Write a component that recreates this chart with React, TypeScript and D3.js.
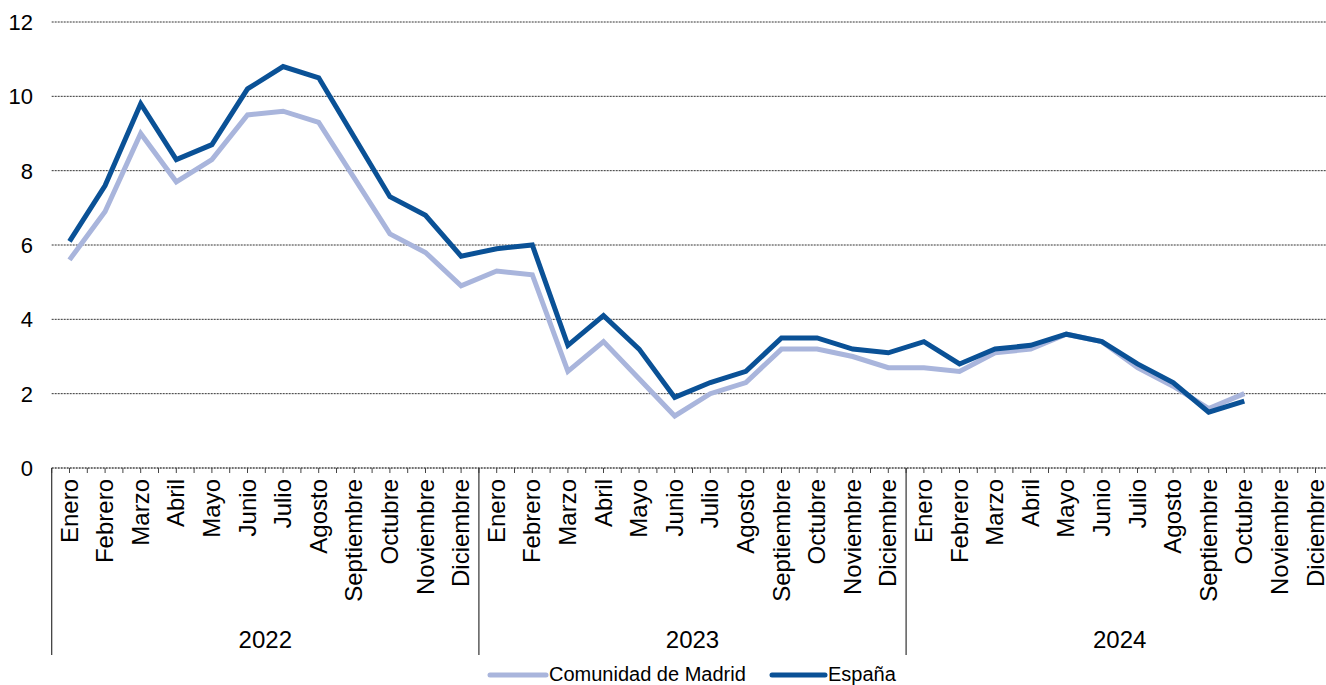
import React from "react";
import * as d3 from "d3";

const years = ["2022", "2023", "2024"];
const months = ["Enero", "Febrero", "Marzo", "Abril", "Mayo", "Junio", "Julio", "Agosto", "Septiembre", "Octubre", "Noviembre", "Diciembre"];
const madrid = [
  5.6, 6.9, 9.0, 7.7, 8.3, 9.5, 9.6, 9.3, 7.8, 6.3, 5.8, 4.9,
  5.3, 5.2, 2.6, 3.4, 2.4, 1.4, 2.0, 2.3, 3.2, 3.2, 3.0, 2.7,
  2.7, 2.6, 3.1, 3.2, 3.6, 3.4, 2.7, 2.2, 1.6, 2.0,
];
const espana = [
  6.1, 7.6, 9.8, 8.3, 8.7, 10.2, 10.8, 10.5, 8.9, 7.3, 6.8, 5.7,
  5.9, 6.0, 3.3, 4.1, 3.2, 1.9, 2.3, 2.6, 3.5, 3.5, 3.2, 3.1,
  3.4, 2.8, 3.2, 3.3, 3.6, 3.4, 2.8, 2.3, 1.5, 1.8,
];
const yTicks = [0, 2, 4, 6, 8, 10, 12];
const seriesNames = ["Comunidad de Madrid", "España"];

const W = 1326;
const H = 685;
const FONT = "Liberation Sans, Arial, sans-serif";
const LIGHT = "#a9b5dc";
const DARK = "#0a5196";

export default function App() {
  const left = 51.7;
  const n = years.length * months.length;
  const step = 35.6;
  const right = left + n * step;
  const x = d3.scaleLinear().domain([0, n]).range([left, right]);
  const y = d3.scaleLinear().domain([0, 12]).range([468, 22]);
  const line = d3
    .line<number>()
    .x((_, i) => x(i + 0.5))
    .y((d) => y(d));

  const halfTicks = d3.range(0, n * 2 + 1).map((k) => k / 2);

  return (
    <svg width={W} height={H} style={{ position: "absolute", left: 0, top: 0, background: "#fff" }} fontFamily={FONT}>
      {yTicks.map((t) =>
        t === 0 ? null : (
          <line key={"g" + t} x1={left} x2={W} y1={y(t)} y2={y(t)} stroke="#333" strokeWidth={1} strokeDasharray="2,1" />
        )
      )}
      {yTicks.map((t) => (
        <text key={"yt" + t} x={33} y={y(t)} dy="0.36em" textAnchor="end" fontSize={22} fill="#000">
          {t}
        </text>
      ))}
      <line x1={left} x2={W} y1={y(0)} y2={y(0)} stroke="#444" strokeWidth={1.3} strokeDasharray="2,1" />
      {halfTicks.map((k) => (
        <line key={"tk" + k} x1={x(k)} x2={x(k)} y1={y(0)} y2={y(0) + 5} stroke="#444" strokeWidth={1} />
      ))}
      {years.map((yr, g) => (
        <line key={"sep" + yr} x1={x(g * 12)} x2={x(g * 12)} y1={y(0)} y2={655} stroke="#333" strokeWidth={1.2} />
      ))}
      <line x1={x(n)} x2={x(n)} y1={y(0)} y2={655} stroke="#333" strokeWidth={1.2} />
      {years.map((yr, g) =>
        months.map((m, j) => {
          const cx = x(g * 12 + j + 0.5);
          return (
            <text
              key={yr + m}
              transform={`translate(${cx + 8},${479}) rotate(-90)`}
              textAnchor="end"
              fontSize={24}
              fill="#000"
            >
              {m}
            </text>
          );
        })
      )}
      {years.map((yr, g) => (
        <text key={"yl" + yr} x={x(g * 12 + 6)} y={648} textAnchor="middle" fontSize={24} fill="#000">
          {yr}
        </text>
      ))}
      <path d={line(madrid) || ""} fill="none" stroke={LIGHT} strokeWidth={5} strokeLinejoin="miter" />
      <path d={line(espana) || ""} fill="none" stroke={DARK} strokeWidth={5} strokeLinejoin="miter" />
      <g>
        <line x1={490} x2={546} y1={675} y2={675} stroke={LIGHT} strokeWidth={5} strokeLinecap="round" />
        <text x={549} y={681} fontSize={20} fill="#000">{seriesNames[0]}</text>
        <line x1={772} x2={825} y1={675} y2={675} stroke={DARK} strokeWidth={5} strokeLinecap="round" />
        <text x={828} y={681} fontSize={20} fill="#000">{seriesNames[1]}</text>
      </g>
    </svg>
  );
}
